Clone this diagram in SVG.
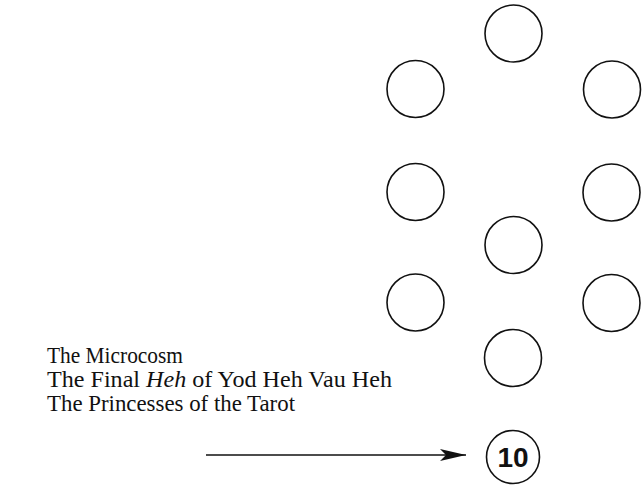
<svg xmlns="http://www.w3.org/2000/svg" width="642" height="486" viewBox="0 0 642 486">
<style>
.node circle{fill:none;stroke:#111;stroke-width:1.6}
.lbl{font-family:"Liberation Serif","Times New Roman",serif;font-size:23.5px;fill:#111}
.num{font-family:"Liberation Sans",Arial,sans-serif;font-size:28px;font-weight:bold;fill:#111}
</style>
<defs>
<marker id="ah" viewBox="0 0 26 12" refX="26" refY="6" markerWidth="26" markerHeight="12" markerUnits="userSpaceOnUse" orient="auto">
<path d="M0,0 L26,6 L0,12 L6,6 Z" fill="#111"/>
</marker>
</defs>
<rect width="642" height="486" fill="#fff"/>
<g id="n1" class="node"><circle cx="513.5" cy="33.5" r="28.5"/></g>
<g id="n2" class="node"><circle cx="612" cy="89.5" r="28.5"/></g>
<g id="n3" class="node"><circle cx="415.5" cy="89" r="28.5"/></g>
<g id="n4" class="node"><circle cx="611.5" cy="192.5" r="28.5"/></g>
<g id="n5" class="node"><circle cx="415.5" cy="192" r="28.5"/></g>
<g id="n6" class="node"><circle cx="513.5" cy="245" r="28.5"/></g>
<g id="n7" class="node"><circle cx="611.5" cy="303" r="28.5"/></g>
<g id="n8" class="node"><circle cx="415.5" cy="302.5" r="28.5"/></g>
<g id="n9" class="node"><circle cx="513" cy="358" r="28.5"/></g>
<g id="n10" class="node"><circle cx="513" cy="457" r="26.5"/><text class="num" x="513" y="467" text-anchor="middle">10</text></g>
<g id="label">
<text class="lbl" x="47" y="363" textLength="136" lengthAdjust="spacingAndGlyphs">The Microcosm</text>
<text class="lbl" x="47" y="387" textLength="345" lengthAdjust="spacingAndGlyphs">The Final <tspan font-style="italic">Heh</tspan> of Yod Heh Vau Heh</text>
<text class="lbl" x="47" y="411" textLength="248" lengthAdjust="spacingAndGlyphs">The Princesses of the Tarot</text>
</g>
<g id="connectors">
<line x1="206" y1="455" x2="466" y2="455" stroke="#111" stroke-width="1.5" marker-end="url(#ah)"/>
</g>
</svg>
